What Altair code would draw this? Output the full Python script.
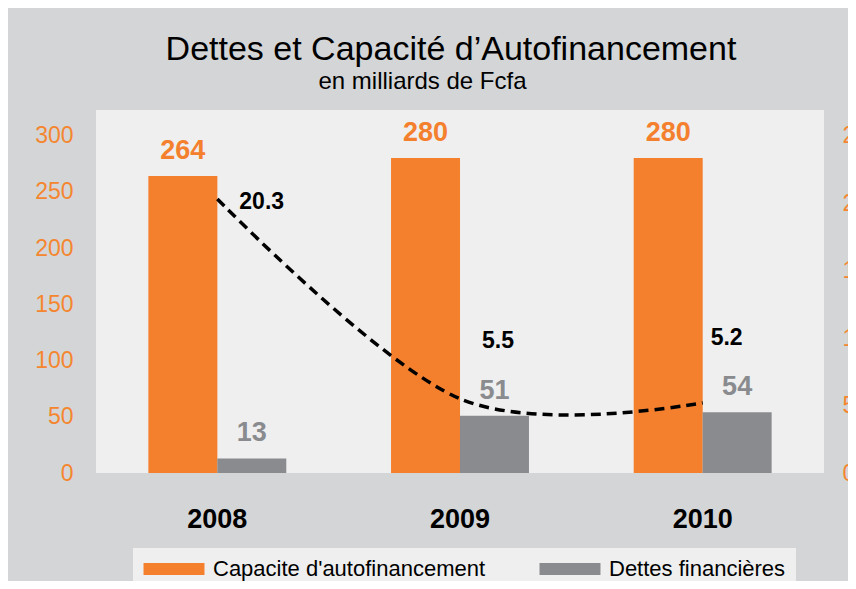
import altair as alt
import pandas as pd

years = ["2008", "2009", "2010"]
capacite = [264, 280, 280]
dettes = [13, 51, 54]
ratio = [20.3, 5.5, 5.2]
series_names = ["Capacite d'autofinancement", "Dettes financières"]

ORANGE = "#F4802E"
GRAY = "#898B8E"
BG = "#D4D5D7"
PLOT = "#EFEFEF"
AXIS_ORANGE = "#F4862F"

bars_df = pd.DataFrame({
    "Year": years * 2,
    "Serie": [series_names[0]] * 3 + [series_names[1]] * 3,
    "Valeur": capacite + dettes,
})
line_df = pd.DataFrame({"Year": years, "Ratio": ratio})

x_scale = alt.Scale(paddingInner=0, paddingOuter=0)
x_enc = alt.X("Year:N", title=None, scale=x_scale,
              axis=alt.Axis(labelFont="Liberation Sans", labelFontSize=27, labelFontWeight="bold",
                            labelColor="black", labelPadding=33, ticks=False, domain=False,
                            labelAngle=0, grid=False))
xoff = alt.XOffset("Serie:N", sort=series_names,
                   scale=alt.Scale(paddingInner=0, paddingOuter=0.76))
ydom_left = [0, 322.67]
ydom_right = [0, 322.67 / 12]

left_axis = alt.Axis(values=[0, 50, 100, 150, 200, 250, 300], labelFont="Liberation Sans",
                     labelFontSize=23, labelColor=AXIS_ORANGE, labelPadding=23,
                     ticks=False, domain=False, grid=False)
right_axis = alt.Axis(orient="right", values=[0, 5, 10, 15, 20, 25], labelFont="Liberation Sans",
                      labelFontSize=23, labelColor=AXIS_ORANGE, labelPadding=18,
                      ticks=False, domain=False, grid=False)

color_enc = alt.Color("Serie:N", sort=series_names,
                      scale=alt.Scale(domain=series_names, range=[ORANGE, GRAY]),
                      legend=alt.Legend(title=None, orient="none", legendX=37, legendY=438,
                                        direction="horizontal", fillColor=PLOT, padding=10,
                                        labelFont="Liberation Sans", labelFontSize=22, labelColor="black",
                                        labelLimit=500,
                                        symbolType="M-3,-0.6L3,-0.6L3,0.6L-3,0.6Z", symbolSize=413,
                                        symbolOffset=20, symbolStrokeWidth=0, symbolOpacity=1,
                                        labelOffset=28, columnPadding=53))

bars = alt.Chart(bars_df).mark_bar(size=69).encode(
    x=x_enc, xOffset=xoff,
    y=alt.Y("Valeur:Q", title=None,
            scale=alt.Scale(domain=ydom_left, nice=False, zero=True), axis=left_axis),
    color=color_enc,
)

bar_text = alt.Chart(bars_df).mark_text(
    font="Liberation Sans", fontSize=27, fontWeight="bold", baseline="alphabetic", dy=-17
).encode(
    x=alt.X("Year:N", scale=x_scale), xOffset=xoff,
    y=alt.Y("Valeur:Q", scale=alt.Scale(domain=ydom_left, nice=False, zero=True)),
    text="Valeur:Q",
    color=alt.Color("Serie:N", sort=series_names, legend=None,
                    scale=alt.Scale(domain=series_names, range=[ORANGE, "#7C7C7C"])),
)

left = alt.layer(bars, bar_text)

line = alt.Chart(line_df).mark_line(
    color="black", strokeWidth=3.5, strokeDash=[10, 6], interpolate="cardinal"
).encode(
    x=alt.X("Year:N", scale=x_scale,
            axis=alt.Axis(orient="top", labels=False, ticks=False, domain=False, grid=False,
                          title="en milliards de Fcfa", titleFont="Liberation Sans",
                          titleFontSize=24, titleFontWeight="normal", titleColor="black",
                          titleAnchor="middle", titleAlign="center", titleBaseline="alphabetic",
                          titleX=326, titleY=-22)),
    y=alt.Y("Ratio:Q", title=None,
            scale=alt.Scale(domain=ydom_right, nice=False, zero=True), axis=right_axis),
)

def ratio_label(year, dx, dy):
    return alt.Chart(line_df).transform_filter(alt.datum.Year == year).mark_text(
        font="Liberation Sans", fontSize=23, fontWeight="bold", color="black",
        align="left", baseline="middle", dx=dx, dy=dy
    ).encode(x=alt.X("Year:N", scale=x_scale),
             y=alt.Y("Ratio:Q", scale=alt.Scale(domain=ydom_right, nice=False, zero=True)),
             text=alt.Text("Ratio:Q", format=".1f"))

right = alt.layer(line, ratio_label("2008", 22, 3), ratio_label("2009", 22, -58),
                  ratio_label("2010", 8, -65))

chart = alt.layer(left, right).resolve_scale(
    y="independent", color="independent"
).resolve_axis(x="independent").properties(
    width=728, height=363,
    autosize=alt.AutoSizeParams(type="none"),
    padding={"left": 88, "top": 102, "right": 24, "bottom": 108},
    background=BG,
    title=alt.Title("Dettes et Capacité d’Autofinancement",
                    font="Liberation Sans", fontSize=34, fontWeight="normal", color="black",
                    anchor="middle", frame="group", dx=-9, offset=2),
).configure_view(fill=PLOT, stroke=None)

chart.save("out.html", embed_options={"renderer": "svg", "actions": False})
